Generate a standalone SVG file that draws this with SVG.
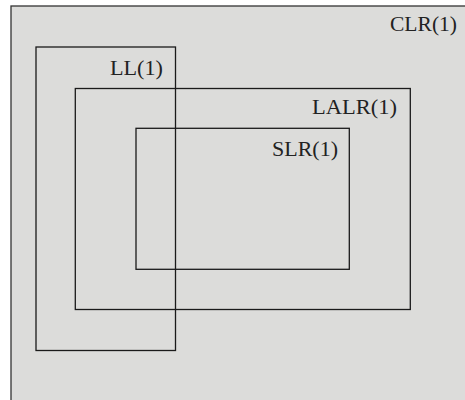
<svg xmlns="http://www.w3.org/2000/svg" width="465" height="400" viewBox="0 0 465 400">
  <style>
    .box { fill: none; stroke: #1a1a1a; stroke-width: 1.3; }
    .lbl { font-family: "Liberation Serif", "Times New Roman", serif; font-size: 20px; fill: #222; text-anchor: end; }
  </style>
  <rect x="0" y="0" width="465" height="400" fill="#ffffff"/>
  <!-- outer region: CLR(1) -->
  <g id="clr">
    <rect x="11" y="6" width="470" height="410" fill="#dcdcda" stroke="#333" stroke-width="1.3"/>
    <text class="lbl" x="457" y="31" textLength="67" lengthAdjust="spacingAndGlyphs">CLR(1)</text>
  </g>
  <g id="ll">
    <rect class="box" x="36" y="47" width="139.5" height="303.5"/>
    <text class="lbl" x="163" y="75" textLength="53" lengthAdjust="spacingAndGlyphs">LL(1)</text>
  </g>
  <g id="lalr">
    <rect class="box" x="75.3" y="88.5" width="335" height="221"/>
    <text class="lbl" x="397" y="114" textLength="85" lengthAdjust="spacingAndGlyphs">LALR(1)</text>
  </g>
  <g id="slr">
    <rect class="box" x="136" y="128.3" width="213.3" height="141"/>
    <text class="lbl" x="338" y="156" textLength="66" lengthAdjust="spacingAndGlyphs">SLR(1)</text>
  </g>
  <g id="connectors"/>
</svg>
